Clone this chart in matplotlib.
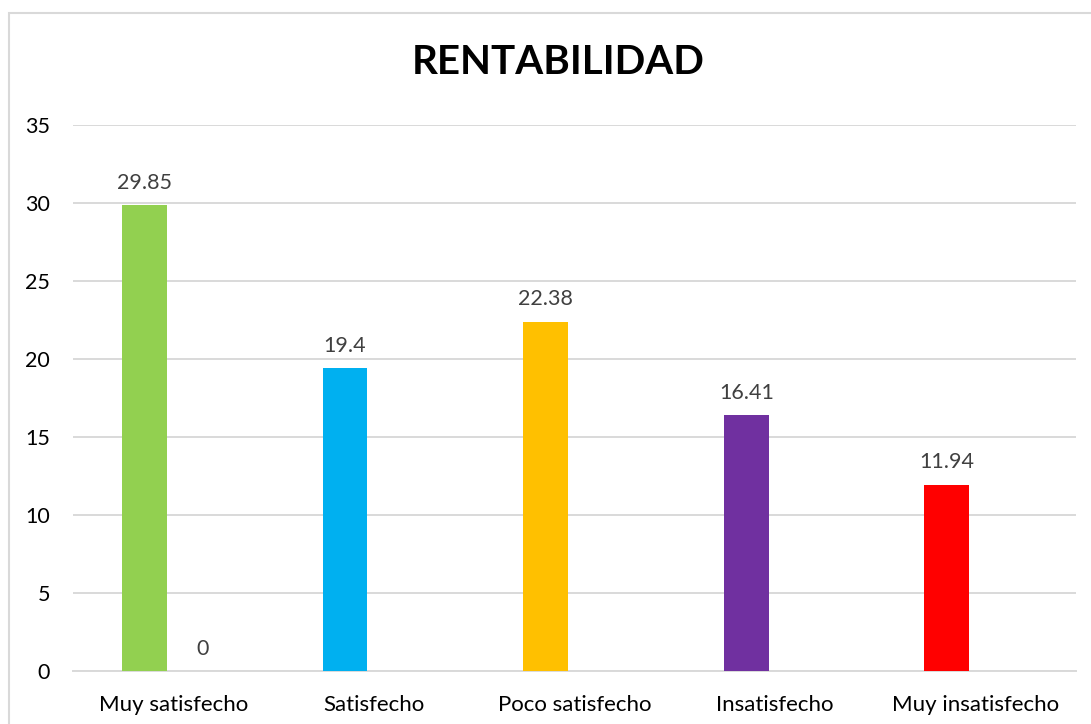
import numpy as np
import matplotlib
matplotlib.use("Agg")
import matplotlib.pyplot as plt
from matplotlib.patches import Rectangle

# datos
categorias = ["Muy satisfecho", "Satisfecho", "Poco satisfecho", "Insatisfecho", "Muy insatisfecho"]
serie1 = [29.85, 19.4, 22.38, 16.41, 11.94]
serie2 = [0, None, None, None, None]
colores = ["#92D050", "#00B0F0", "#FFC000", "#7030A0", "#FF0000"]
titulo = "RENTABILIDAD"

plt.rcParams['font.family'] = ['Lato', 'DejaVu Sans']

fig = plt.figure(figsize=(10.91, 7.24), dpi=100)
ax = fig.add_axes([0.0669, 0.0732, 0.9194, 0.7541])

ind = np.arange(len(categorias))
width = 0.224
off = 0.144

bars = ax.bar(ind - off, serie1, width, color=colores, zorder=3)
for rect, v in zip(bars, serie1):
    ax.text(rect.get_x() + rect.get_width() / 2., v + 0.8, '%g' % v,
            ha='center', va='bottom', fontsize=15.5, color='#404040')

x2 = [i + off for i, v in enumerate(serie2) if v is not None]
v2 = [v for v in serie2 if v is not None]
bars2 = ax.bar(x2, v2, width, color='#A5A5A5', zorder=3)
for rect, v in zip(bars2, v2):
    ax.text(rect.get_x() + rect.get_width() / 2., v + 0.8, '%g' % v,
            ha='center', va='bottom', fontsize=15.5, color='#404040')

ax.set_xlim(-0.5, len(categorias) - 0.5)
ax.set_ylim(0, 35)
ax.set_yticks(range(0, 36, 5))
ax.set_xticks(ind)
ax.set_xticklabels(categorias)
ax.tick_params(axis='both', length=0, colors='black')
ax.tick_params(axis='y', pad=16.5, labelsize=15.5)
ax.tick_params(axis='x', pad=17, labelsize=16)
ax.yaxis.grid(True, color='#D9D9D9', linewidth=1.4, zorder=0)
for s in ['top', 'right', 'left']:
    ax.spines[s].set_visible(False)
ax.spines['bottom'].set_color('#D9D9D9')
ax.spines['bottom'].set_linewidth(1.4)

fig.text(0.5115, 0.913, titulo, ha='center', va='center', fontsize=29, fontweight='bold')

# borde del grafico
fig.patches.append(Rectangle((9 / 1091., -0.5), 2.0, 1.5 - 13 / 724., transform=fig.transFigure,
                             fill=False, edgecolor='#D9D9D9', linewidth=1.5))

fig.savefig("out.png", dpi=100)
